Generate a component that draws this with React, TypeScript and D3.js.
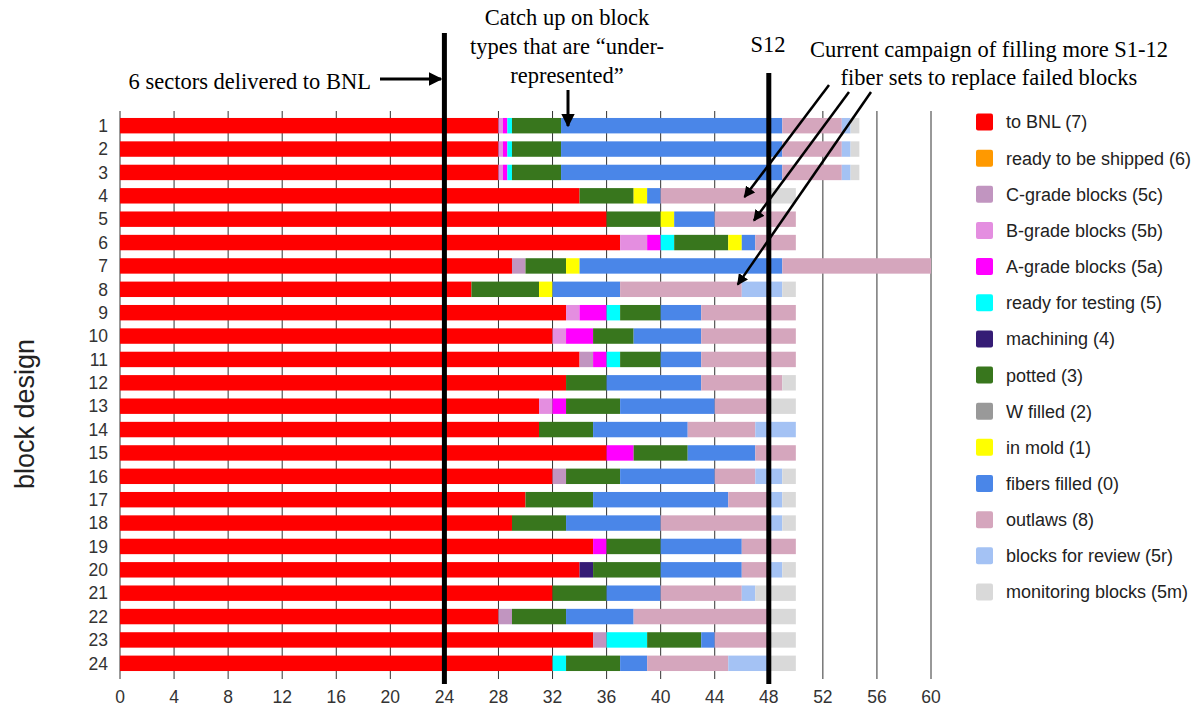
import React from 'react';
import * as d3 from 'd3';

const blocks = d3.range(1, 25).map(String);

const seriesKeys = [
  'toBNL', 'shipped', 'cGrade', 'bGrade', 'aGrade', 'testing', 'machining',
  'potted', 'wFilled', 'inMold', 'fibers', 'outlaws', 'review', 'monitoring',
];
const seriesLabels = [
  'to BNL (7)', 'ready to be shipped (6)', 'C-grade blocks (5c)', 'B-grade blocks (5b)',
  'A-grade blocks (5a)', 'ready for testing (5)', 'machining (4)', 'potted (3)',
  'W filled (2)', 'in mold (1)', 'fibers filled (0)', 'outlaws (8)',
  'blocks for review (5r)', 'monitoring blocks (5m)',
];
const seriesColors = [
  '#ff0000', '#ff9900', '#c195c0', '#e48ee0', '#ff00ff', '#00ffff', '#351c75',
  '#38761d', '#999999', '#ffff00', '#4a86e8', '#d5a6bd', '#a4c2f4', '#d9d9d9',
];

// counts per block design, rows 1..24
const toBNL = [28, 28, 28, 34, 36, 37, 29, 26, 33, 32, 34, 33, 31, 31, 36, 32, 30, 29, 35, 34, 32, 28, 35, 32];
const shipped = [0, 0, 0, 0, 0, 0, 0, 0, 0, 0, 0, 0, 0, 0, 0, 0, 0, 0, 0, 0, 0, 0, 0, 0];
const cGrade = [0, 0, 0, 0, 0, 0, 1, 0, 0, 0, 1, 0, 0, 0, 0, 1, 0, 0, 0, 0, 0, 1, 1, 0];
const bGrade = [0.33, 0.33, 0.33, 0, 0, 2, 0, 0, 1, 1, 0, 0, 1, 0, 0, 0, 0, 0, 0, 0, 0, 0, 0, 0];
const aGrade = [0.33, 0.33, 0.33, 0, 0, 1, 0, 0, 2, 2, 1, 0, 1, 0, 2, 0, 0, 0, 1, 0, 0, 0, 0, 0];
const testing = [0.34, 0.34, 0.34, 0, 0, 1, 0, 0, 1, 0, 1, 0, 0, 0, 0, 0, 0, 0, 0, 0, 0, 0, 3, 1];
const machining = [0, 0, 0, 0, 0, 0, 0, 0, 0, 0, 0, 0, 0, 0, 0, 0, 0, 0, 0, 1, 0, 0, 0, 0];
const potted = [3.63, 3.63, 3.63, 4, 4, 4, 3, 5, 3, 3, 3, 3, 4, 4, 4, 4, 5, 4, 4, 5, 4, 4, 4, 4];
const wFilled = [0, 0, 0, 0, 0, 0, 0, 0, 0, 0, 0, 0, 0, 0, 0, 0, 0, 0, 0, 0, 0, 0, 0, 0];
const inMold = [0, 0, 0, 1, 1, 1, 1, 1, 0, 0, 0, 0, 0, 0, 0, 0, 0, 0, 0, 0, 0, 0, 0, 0];
const fibers = [16.37, 16.37, 16.37, 1, 3, 1, 15, 5, 3, 5, 3, 7, 7, 7, 5, 7, 10, 7, 6, 6, 4, 5, 1, 2];
const outlaws = [4.4, 4.4, 4.4, 8, 6, 3, 11, 9, 7, 7, 7, 6, 4, 5, 3, 3, 3, 8, 4, 2, 6, 10, 4, 6];
const review = [0.65, 0.65, 0.65, 0, 0, 0, 0, 3, 0, 0, 0, 0, 0, 3, 0, 2, 1, 1, 0, 1, 1, 0, 0, 3];
const monitoring = [0.65, 0.65, 0.65, 2, 0, 0, 0, 1, 0, 0, 0, 1, 2, 0, 0, 1, 1, 1, 0, 1, 3, 2, 2, 2];

const xTicks = d3.range(0, 61, 4);
const milestones = [24, 48];

const seriesValues = [toBNL, shipped, cGrade, bGrade, aGrade, testing, machining,
  potted, wFilled, inMold, fibers, outlaws, review, monitoring];

const rows = blocks.map((b, i) => {
  const r: any = { block: b };
  seriesKeys.forEach((k, j) => { r[k] = seriesValues[j][i]; });
  return r;
});

const W = 1198;
const H = 711;
const serif = '"Liberation Serif", "Times New Roman", serif';
const sans = '"Liberation Sans", Arial, sans-serif';

export default function App() {
  const x = d3.scaleLinear().domain([0, 60]).range([120, 931]);
  const y = d3.scaleBand().domain(blocks).range([114, 675]).paddingInner(0.34).paddingOuter(0.17);
  const stacked = d3.stack().keys(seriesKeys)(rows as any);
  const color = d3.scaleOrdinal<string, string>().domain(seriesKeys).range(seriesColors);
  const legendY = (i: number) => 122 + i * 36.15;

  // annotation arrows pointing into the outlaws segments
  const campaign = [
    { from: [829, 85], to: [x(46.2), y('4')! + 9] },
    { from: [849, 92], to: [x(46.9), y('5')! + 9] },
    { from: [871, 92], to: [x(45.7), y('8')! + 3] },
  ];

  return (
    <svg width={W} height={H} style={{ position: 'absolute', left: 0, top: 0, display: 'block', background: '#fff' }}>
      <defs>
        <marker id="head" viewBox="0 0 10 10" refX="9" refY="5" markerWidth="4.5" markerHeight="4.5" orient="auto">
          <path d="M0,0 L10,5 L0,10 z" fill="#000" />
        </marker>
      </defs>

      {/* grid lines */}
      {xTicks.map((t) => (
        <line key={'g' + t} x1={x(t)} x2={x(t)} y1={111} y2={679} stroke="#333" strokeWidth={1} />
      ))}

      {/* bars */}
      {stacked.map((s) => (
        <g key={s.key} fill={color(s.key)}>
          {s.map((d: any, i) => (d[1] - d[0] > 0 ? (
            <rect key={i} x={x(d[0])} y={y(blocks[i])} width={x(d[1]) - x(d[0])} height={y.bandwidth()} />
          ) : null))}
        </g>
      ))}

      {/* milestone lines */}
      <line x1={x(milestones[0])} x2={x(milestones[0])} y1={33} y2={684} stroke="#000" strokeWidth={5} />
      <line x1={x(milestones[1])} x2={x(milestones[1])} y1={73} y2={684} stroke="#000" strokeWidth={5} />

      {/* y labels */}
      {blocks.map((b) => (
        <text key={'y' + b} x={108} y={y(b)! + y.bandwidth() / 2} dy="0.36em" textAnchor="end"
          fontFamily={sans} fontSize={17.5} fill="#333">{b}</text>
      ))}
      <text transform="translate(34,414) rotate(-90)" textAnchor="middle" fontFamily={sans} fontSize={27} fill="#222">
        block design
      </text>

      {/* x labels */}
      {xTicks.map((t) => (
        <text key={'x' + t} x={x(t)} y={697} dy="0.36em" textAnchor="middle" fontFamily={sans} fontSize={17.5} fill="#333">
          {t}
        </text>
      ))}

      {/* annotations */}
      <g fontFamily={serif} fontSize={22.5} fill="#000">
        <text x={371} y={89} textAnchor="end">6 sectors delivered to BNL</text>
        <text x={567} y={25} textAnchor="middle">Catch up on block</text>
        <text x={567} y={54} textAnchor="middle">types that are “under-</text>
        <text x={567} y={83} textAnchor="middle">represented”</text>
        <text x={768} y={52} textAnchor="middle">S12</text>
        <text x={989} y={57} textAnchor="middle">Current campaign of filling more S1-12</text>
        <text x={989} y={85} textAnchor="middle">fiber sets to replace failed blocks</text>
      </g>
      <line x1={380} y1={79} x2={441} y2={79} stroke="#000" strokeWidth={3} markerEnd="url(#head)" />
      <line x1={568} y1={90} x2={568} y2={126} stroke="#000" strokeWidth={3} markerEnd="url(#head)" />
      {campaign.map((a, i) => (
        <line key={'a' + i} x1={a.from[0]} y1={a.from[1]} x2={a.to[0]} y2={a.to[1]}
          stroke="#000" strokeWidth={2.5} markerEnd="url(#head)" />
      ))}

      {/* legend */}
      {seriesLabels.map((l, i) => (
        <g key={l} transform={`translate(976,${legendY(i)})`}>
          <rect x={0} y={-8.5} width={17} height={17} rx={2} fill={seriesColors[i]} />
          <text x={30} y={0} dy="0.36em" fontFamily={sans} fontSize={18} fill="#222">{l}</text>
        </g>
      ))}
    </svg>
  );
}
